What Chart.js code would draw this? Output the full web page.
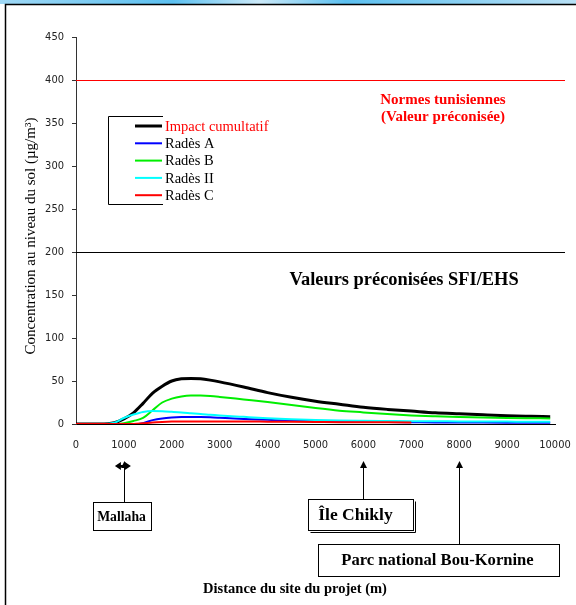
<!DOCTYPE html>
<html>
<head>
<meta charset="utf-8">
<script src="https://cdn.jsdelivr.net/npm/chart.js@4"></script>
<style>
  html, body { margin: 0; padding: 0; background: #fff; }
  #wrap { width: 576px; height: 605px; }
</style>
</head>
<body>
<div id="wrap"><canvas id="line-chart"></canvas></div>
<script>
// Distances (m)
const distances = [0, 500, 800, 1000, 1200, 1400, 1600, 1800, 2000, 2200, 2400, 2600, 2800, 3000, 3500,
  4000, 4500, 5000, 5500, 6000, 6500, 7000, 7500, 8000, 8500, 9000, 9500, 9900];

// Concentrations (µg/m3)
const impactCumulatif = [0, 0, 1.5, 6, 13, 24, 36, 44, 50, 52.5, 53, 52.5, 51, 49, 43,
  36.5, 31, 26.5, 23, 19.5, 17, 15, 13, 11.8, 10.7, 9.7, 9, 8.5];
const radesA = [0, 0, 0, 0, 0, 1, 4.5, 6.5, 7.5, 8, 8, 8, 7.8, 7.3, 5.8,
  4.8, 3.8, 3.2, 2.8, 2.5, 2.2, 2, 1.8, 1.7, 1.6, 1.5, 1.4, 1.4];
const radesB = [0, 0, 0, 1, 3.5, 7, 16, 25, 29.5, 32, 33, 33, 32.5, 31.5, 28.5,
  25.5, 22, 18.5, 15.5, 13.5, 11.5, 10, 9, 8.2, 7.5, 7, 6.7, 6.5];
const radesII = [0, 0, 1.5, 7, 11, 14, 15, 14.8, 14.2, 13.5, 12.5, 11.5, 10.8, 10, 8.3,
  6.7, 5.5, 4.6, 4, 3.7, 3.5, 3.3, 3.2, 3, 2.9, 2.8, 2.7, 2.7];
const radesC = [0, 0, 0, 0, 0, 0.8, 1.8, 2.4, 2.8, 3, 3, 3, 3, 3, 2.9,
  2.7, 2.5, 2.3, 2.1, 2, 1.9, 1.8, null, null, null, null, null, null];

// Valeurs limites
const normeTunisienne = 400;
const valeurSfiEhs = 200;

// Sites sensibles
const sites = ["Mallaha", "Île Chikly", "Parc national Bou-Kornine"];
const sitesDistance = [1000, 6000, 8000];

const series = [
  { label: "Impact cumultatif", data: impactCumulatif, color: "#000000", width: 3, text: "#ff0000" },
  { label: "Radès A", data: radesA, color: "#0000ff", width: 2, text: "#000000" },
  { label: "Radès B", data: radesB, color: "#00ee00", width: 2, text: "#000000" },
  { label: "Radès II", data: radesII, color: "#00ffff", width: 2, text: "#000000" },
  { label: "Radès C", data: radesC, color: "#ff0000", width: 2, text: "#000000" }
];

const serif = "'Liberation Serif', 'Times New Roman', serif";
const tickFont = { family: "'DejaVu Sans Condensed', 'Liberation Sans', sans-serif", size: 11 };

function fleche(ctx, x, y) {
  ctx.beginPath();
  ctx.moveTo(x, y);
  ctx.lineTo(x - 3.5, y + 7);
  ctx.lineTo(x + 3.5, y + 7);
  ctx.closePath();
  ctx.fill();
}

// Cadre, légende, textes et annotations
const decor = {
  id: "decor",
  beforeDraw(chart) {
    const ctx = chart.ctx;
    ctx.save();
    const g = ctx.createLinearGradient(0, 0, 576, 0);
    g.addColorStop(0, "#9fd8f5");
    g.addColorStop(0.3, "#5cc0f0");
    g.addColorStop(0.45, "#cbe9f8");
    g.addColorStop(0.6, "#5cc0f0");
    g.addColorStop(1, "#b8e0f5");
    ctx.fillStyle = g;
    ctx.fillRect(0, 0, 576, 4);
    ctx.strokeStyle = "#000";
    ctx.lineWidth = 1.5;
    ctx.beginPath();
    ctx.moveTo(5.5, 605);
    ctx.lineTo(5.5, 4.5);
    ctx.lineTo(576, 4.5);
    ctx.stroke();
    ctx.restore();
  },
  afterDatasetsDraw(chart) {
    const ctx = chart.ctx;
    const x = chart.scales.x, y = chart.scales.y, area = chart.chartArea;
    ctx.save();

    // Lignes des valeurs limites
    ctx.lineWidth = 1;
    ctx.strokeStyle = "#ff0000";
    let py = Math.round(y.getPixelForValue(normeTunisienne)) + 0.5;
    ctx.beginPath(); ctx.moveTo(area.left, py); ctx.lineTo(area.right + 10, py); ctx.stroke();
    ctx.strokeStyle = "#000";
    py = Math.round(y.getPixelForValue(valeurSfiEhs)) + 0.5;
    ctx.beginPath(); ctx.moveTo(area.left, py); ctx.lineTo(area.right + 10, py); ctx.stroke();

    ctx.textAlign = "center";
    ctx.textBaseline = "middle";
    ctx.fillStyle = "#ff0000";
    ctx.font = "bold 15px " + serif;
    ctx.fillText("Normes tunisiennes", 443, 100);
    ctx.fillText("(Valeur préconisée)", 443, 117);
    ctx.fillStyle = "#000";
    ctx.font = "bold 18.4px " + serif;
    ctx.fillText("Valeurs préconisées SFI/EHS", 404, 280);

    // Légende
    ctx.lineWidth = 1;
    ctx.strokeStyle = "#000";
    ctx.beginPath();
    ctx.moveTo(163, 116.5); ctx.lineTo(108.5, 116.5); ctx.lineTo(108.5, 204.5); ctx.lineTo(163, 204.5);
    ctx.stroke();
    ctx.textAlign = "left";
    ctx.font = "14.5px " + serif;
    series.forEach((s, i) => {
      const ly = 126 + i * 17.3;
      ctx.strokeStyle = s.color;
      ctx.lineWidth = s.width;
      ctx.beginPath(); ctx.moveTo(135, ly); ctx.lineTo(162, ly); ctx.stroke();
      ctx.fillStyle = s.text;
      ctx.fillText(s.label, 165, ly + 1);
    });

    // Titres des axes
    ctx.fillStyle = "#000";
    ctx.font = "15px " + serif;
    ctx.save();
    ctx.translate(31, 236);
    ctx.rotate(-Math.PI / 2);
    ctx.textAlign = "center";
    ctx.fillText("Concentration au niveau du sol (µg/m³)", 0, 0);
    ctx.restore();
    ctx.textAlign = "center";
    ctx.font = "bold 14.5px " + serif;
    ctx.fillText("Distance du site du projet (m)", 295, 589);

    // Sites sensibles
    ctx.strokeStyle = "#000";
    ctx.fillStyle = "#000";
    ctx.lineWidth = 1;
    const boites = [
      { w: 58, top: 502, h: 28, dx: -3, tx: 0, font: "bold 13.7px " + serif, ombre: false },
      { w: 105, top: 499, h: 31, dx: -3, tx: -5, font: "bold 17.5px " + serif, ombre: true },
      { w: 241, top: 544, h: 32, dx: -21, tx: -1, font: "bold 16.6px " + serif, ombre: false }
    ];
    sites.forEach((nom, i) => {
      const px = Math.round(x.getPixelForValue(sitesDistance[i])) + 0.5;
      const b = boites[i];
      ctx.beginPath(); ctx.moveTo(px, b.top); ctx.lineTo(px, 464); ctx.stroke();
      fleche(ctx, px, 461);
      const cx = px + b.dx;
      const bx = Math.round(cx - b.w / 2) + 0.5;
      ctx.fillStyle = "#fff";
      ctx.fillRect(bx, b.top + 0.5, b.w, b.h);
      ctx.strokeRect(bx, b.top + 0.5, b.w, b.h);
      if (b.ombre) {
        ctx.beginPath();
        ctx.moveTo(bx + b.w + 2, b.top + 2.5);
        ctx.lineTo(bx + b.w + 2, b.top + b.h + 2.5);
        ctx.lineTo(bx + 2, b.top + b.h + 2.5);
        ctx.stroke();
      }
      ctx.fillStyle = "#000";
      ctx.font = b.font;
      ctx.fillText(nom, cx + b.tx, b.top + b.h / 2 + 1);
    });

    // Double flèche à Mallaha
    const mx = x.getPixelForValue(sitesDistance[0]);
    ctx.beginPath();
    ctx.moveTo(mx - 9, 466); ctx.lineTo(mx - 3, 462); ctx.lineTo(mx - 3, 470); ctx.closePath();
    ctx.moveTo(mx + 7, 466); ctx.lineTo(mx + 1, 462); ctx.lineTo(mx + 1, 470); ctx.closePath();
    ctx.fill();
    ctx.beginPath(); ctx.moveTo(mx - 5, 466); ctx.lineTo(mx + 3, 466); ctx.lineWidth = 2; ctx.stroke();

    ctx.restore();
  }
};

new Chart(document.getElementById("line-chart"), {
  type: "line",
  data: {
    datasets: series.map(s => ({
      label: s.label,
      data: distances.map((d, i) => ({ x: d, y: s.data[i] })),
      borderColor: s.color,
      backgroundColor: s.color,
      borderWidth: s.width,
      pointRadius: 0,
      cubicInterpolationMode: "monotone",
      spanGaps: false
    })).reverse()
  },
  options: {
    responsive: true,
    maintainAspectRatio: false,
    animation: false,
    layout: { padding: { left: 0, top: 37, right: 21, bottom: 0 } },
    plugins: {
      legend: { display: false },
      title: { display: false },
      tooltip: { enabled: false }
    },
    scales: {
      x: {
        type: "linear",
        min: 0,
        max: 10000,
        ticks: { stepSize: 1000, color: "#222", padding: 15, maxRotation: 0, font: tickFont,
          callback: v => String(v) },
        grid: { drawOnChartArea: false, drawTicks: false },
        border: { color: "#000", width: 1 },
        afterFit(scale) {
          scale.height = 181;
          scale.paddingLeft = 0;
          scale.paddingRight = 0;
        }
      },
      y: {
        min: 0,
        max: 450,
        ticks: { stepSize: 50, color: "#222", padding: 8, font: tickFont,
          callback: v => String(v) },
        grid: { drawOnChartArea: false, tickLength: 4, color: "#333" },
        border: { color: "#333", width: 1 },
        afterFit(scale) {
          scale.width = 76;
          scale.paddingTop = 0;
          scale.paddingBottom = 0;
        }
      }
    }
  },
  plugins: [decor]
});
</script>
</body>
</html>
